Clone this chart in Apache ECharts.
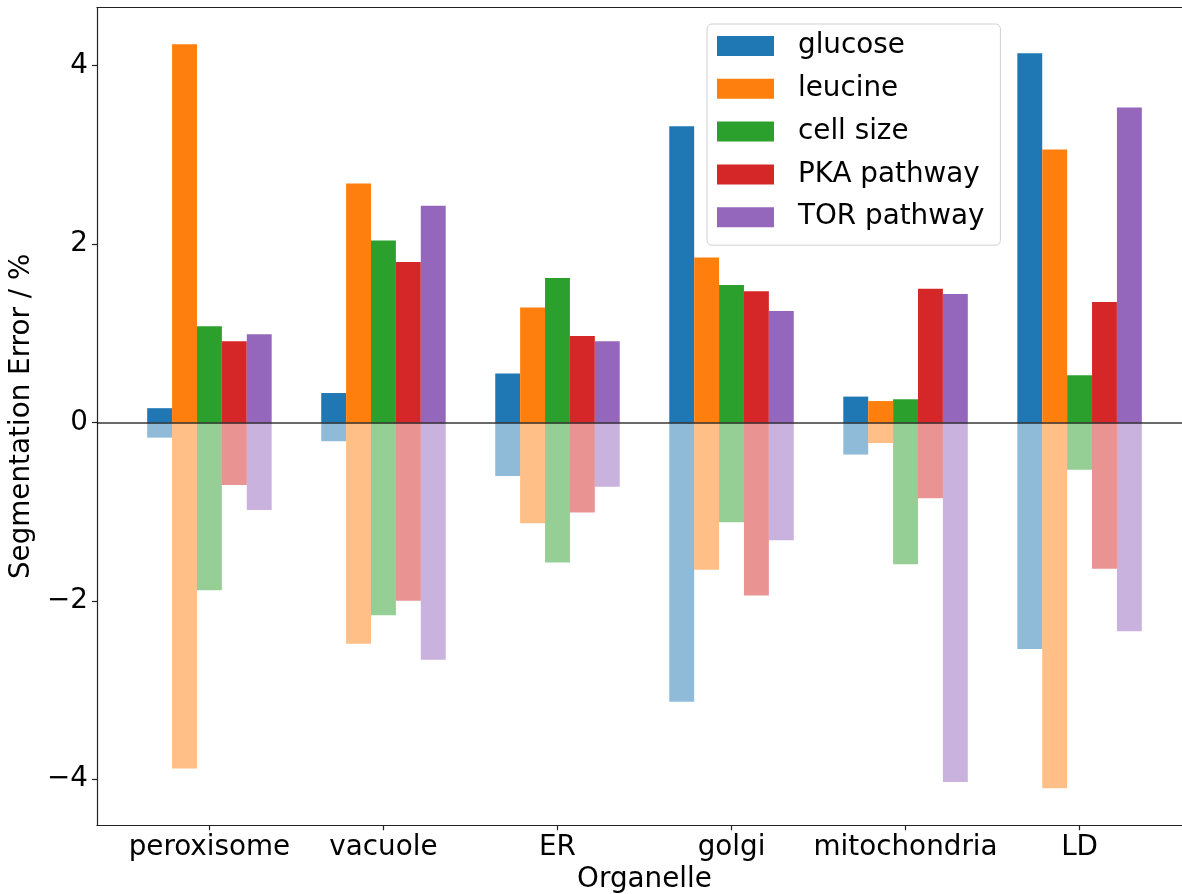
<!DOCTYPE html>
<html>
<head>
<meta charset="utf-8">
<script src="https://cdn.jsdelivr.net/npm/echarts@6/dist/echarts.min.js"></script>
<style>
  html, body { margin: 0; padding: 0; background: #ffffff; }
  #chart { width: 1182px; height: 894px; }
</style>
</head>
<body>
<div id="chart"></div>
<script>
// Organelles along the x axis
const organelles = ['peroxisome', 'vacuole', 'ER', 'golgi', 'mitochondria', 'LD'];
// Perturbation series
const seriesNames = ['glucose', 'leucine', 'cell size', 'PKA pathway', 'TOR pathway'];
const colors = ['#1f77b4', '#ff7f0e', '#2ca02c', '#d62728', '#9467bd'];

// Segmentation error (%) per organelle: upward and downward deviation
const glucoseUp   = [0.16, 0.33, 0.55, 3.32, 0.29, 4.14];
const glucoseDown = [-0.17, -0.21, -0.60, -3.13, -0.36, -2.54];
const leucineUp   = [4.24, 2.68, 1.29, 1.85, 0.24, 3.06];
const leucineDown = [-3.88, -2.48, -1.13, -1.65, -0.23, -4.10];
const cellSizeUp   = [1.08, 2.04, 1.62, 1.54, 0.26, 0.53];
const cellSizeDown = [-1.88, -2.16, -1.57, -1.12, -1.59, -0.53];
const pkaUp   = [0.91, 1.80, 0.97, 1.47, 1.50, 1.35];
const pkaDown = [-0.70, -2.00, -1.01, -1.94, -0.85, -1.64];
const torUp   = [0.99, 2.43, 0.91, 1.25, 1.44, 3.53];
const torDown = [-0.98, -2.66, -0.72, -1.32, -4.03, -2.34];

// Axis ticks
const yTicks = [-4, -2, 0, 2, 4];
const xTicks = organelles.map((_, i) => i);

const ups = [glucoseUp, leucineUp, cellSizeUp, pkaUp, torUp];
const downs = [glucoseDown, leucineDown, cellSizeDown, pkaDown, torDown];

const FONT = 'DejaVu Sans';
const FS = 27.8;
const AXIS_COLOR = '#222';

const fmtNum = v => (v < 0 ? '\u2212' + Math.abs(v) : String(v));

const series = seriesNames.map((name, s) => {
  const data = ups[s].map((v, i) => [i, v])
    .concat(downs[s].map((v, i) => ({ value: [i, v], itemStyle: { opacity: 0.5 } })));
  const item = {
    type: 'bar',
    name: name,
    xAxisIndex: 0,
    yAxisIndex: 0,
    barWidth: 24.9,
    barGap: '0%',
    itemStyle: { color: colors[s] },
    emphasis: { disabled: true },
    animation: false,
    data: data
  };
  if (s === seriesNames.length - 1) {
    // horizontal reference line at zero
    item.markLine = {
      silent: true,
      symbol: ['none', 'none'],
      label: { show: false },
      lineStyle: { color: 'rgba(0,0,0,0.78)', width: 1.6, type: 'solid' },
      data: [{ yAxis: 0 }]
    };
  }
  return item;
});

const chart = echarts.init(document.getElementById('chart'), null, { renderer: 'canvas' });

chart.setOption({
  animation: false,
  backgroundColor: '#ffffff',
  textStyle: { fontFamily: FONT },
  grid: {
    left: 97, top: 7.5, width: 1095, height: 817.8,
    containLabel: false,
    outerBoundsMode: 'none'
  },
  legend: {
    show: true,
    data: seriesNames,
    orient: 'vertical',
    left: 707,
    top: 24,
    icon: 'rect',
    itemWidth: 57,
    itemHeight: 20,
    itemGap: 10.8,
    padding: [6, 16, 12, 10],
    backgroundColor: 'rgba(255,255,255,0.85)',
    borderColor: '#d0d0d0',
    borderWidth: 1,
    borderRadius: 5,
    selectedMode: false,
    textStyle: {
      fontFamily: FONT,
      fontSize: FS,
      color: '#000',
      lineHeight: 28,
      padding: [4, 0, 0, 19]
    }
  },
  xAxis: [
    {
      type: 'value',
      position: 'bottom',
      min: -0.646,
      max: 5.646,
      name: 'Organelle',
      nameLocation: 'middle',
      nameGap: 40,
      nameTextStyle: { fontFamily: FONT, fontSize: FS, color: '#000' },
      axisLine: { show: true, onZero: false, lineStyle: { color: AXIS_COLOR, width: 1.2 } },
      axisTick: { show: true, length: 5, customValues: xTicks, lineStyle: { color: AXIS_COLOR, width: 1.2 } },
      axisLabel: {
        show: true,
        customValues: xTicks,
        margin: 8,
        fontFamily: FONT,
        fontSize: FS,
        color: '#000',
        formatter: v => organelles[Math.round(v)]
      },
      splitLine: { show: false }
    },
    {
      // top frame edge
      type: 'value',
      position: 'top',
      min: -0.646,
      max: 5.646,
      axisLine: { show: true, onZero: false, lineStyle: { color: AXIS_COLOR, width: 1.2 } },
      axisTick: { show: false },
      axisLabel: { show: false },
      splitLine: { show: false }
    }
  ],
  yAxis: [
    {
      type: 'value',
      position: 'left',
      min: -4.516,
      max: 4.652,
      name: 'Segmentation Error / %',
      nameLocation: 'middle',
      nameGap: 53,
      nameTextStyle: { fontFamily: FONT, fontSize: FS, color: '#000' },
      axisLine: { show: true, onZero: false, lineStyle: { color: AXIS_COLOR, width: 1.2 } },
      axisTick: { show: true, length: 5, customValues: yTicks, lineStyle: { color: AXIS_COLOR, width: 1.2 } },
      axisLabel: {
        show: true,
        customValues: yTicks,
        margin: 9,
        fontFamily: FONT,
        fontSize: FS,
        color: '#000',
        formatter: fmtNum
      },
      splitLine: { show: false }
    }
  ],
  series: series
});
</script>
</body>
</html>
